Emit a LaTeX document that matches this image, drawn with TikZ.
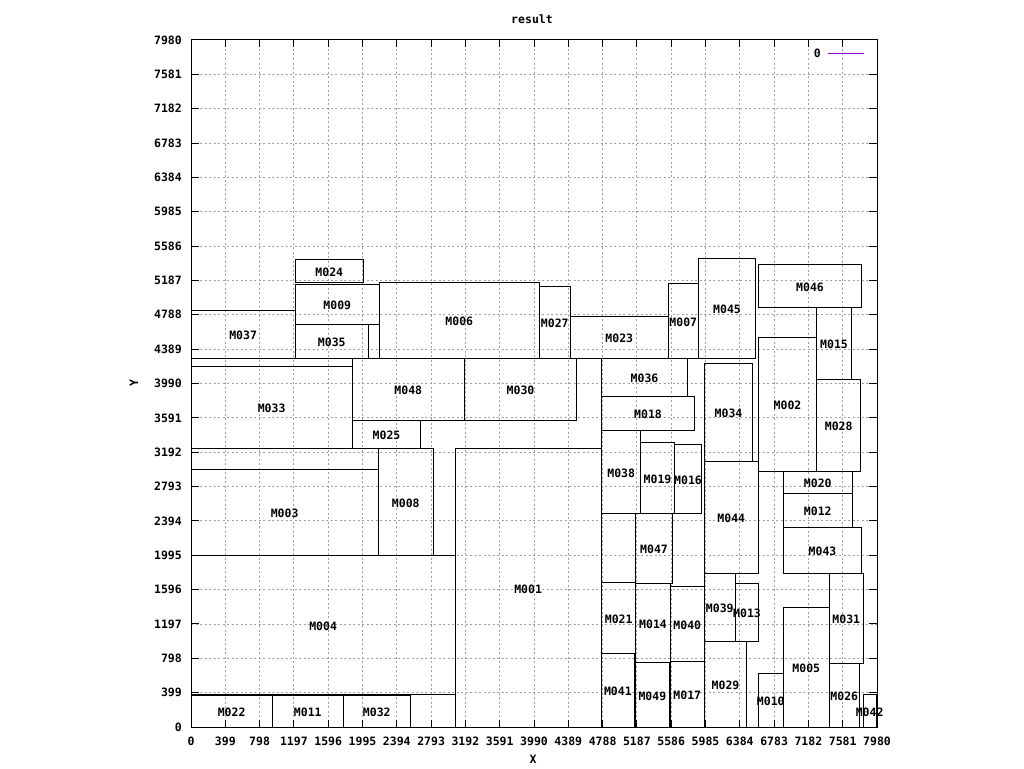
\documentclass[tikz,border=0pt]{standalone}
\usepackage{fontspec}
\setmonofont{DejaVu Sans Mono}
\definecolor{gridgray}{RGB}{160,160,160}
\definecolor{keyviolet}{RGB}{148,0,211}
\newcommand\mblock[5]{%
  \draw[blk] (#2,#3) rectangle (#4,#5);
  \node[lbl] (#1) at ({(#2+#4)/2},{(#3+#5)/2}) {#1};}
\begin{document}
\begin{tikzpicture}[x=1pt,y=-1pt,
  font=\ttfamily\bfseries\fontsize{11.5}{12}\selectfont,
  blk/.style={draw=black,line width=1pt},
  lbl/.style={inner sep=0pt,yshift=-1.2pt},
  gridline/.style={draw=gridgray,line width=0.9pt,dash pattern=on 2pt off 2.5pt},
  axisline/.style={draw=black,line width=1pt},
  keyline/.style={draw=keyviolet,line width=1pt}]
\useasboundingbox (0,0) rectangle (1024,768);
\fill[white] (0,0) rectangle (1024,768);
% grid
\foreach \i in {1,...,19}{
  \pgfmathsetmacro\xx{191+\i*34.3}
  \pgfmathsetmacro\yy{727-\i*34.35}
  \draw[gridline] (\xx,40) -- (\xx,727);
  \draw[gridline] (191,\yy) -- (877,\yy);
}
% frame
\coordinate (ll) at (191,727);
\coordinate (ur) at (877,40);
\draw[axisline] (ll) rectangle (ur);
% ticks and tick labels
\foreach \i in {0,...,20}{
  \pgfmathsetmacro\xx{191+\i*34.3}
  \pgfmathsetmacro\yy{727-\i*34.35}
  \pgfmathtruncatemacro\v{\i*399}
  \draw[axisline] (\xx,727) -- (\xx,720);
  \draw[axisline] (\xx,40) -- (\xx,47);
  \draw[axisline] (191,\yy) -- (199,\yy);
  \draw[axisline] (877,\yy) -- (869,\yy);
  \node[inner sep=0pt] (xt\i) at (\xx,741) {\v};
  \node[inner sep=0pt,anchor=east] (yt\i) at (182,\yy) {\v};
}
% titles
\node[inner sep=0pt] (title) at (532,19) {result};
\node[inner sep=0pt] (xlab) at (533,759) {X};
\node[inner sep=0pt,rotate=90] (ylab) at (134,383) {Y};
% key
\node[inner sep=0pt,anchor=east] (key) at (821,53.5) {0};
\coordinate (ks) at (828,53.5);
\coordinate (ke) at (864,53.5);
\draw[keyline] (ks) -- (ke);
% blocks
\mblock{M001}{455.3}{448.3}{601}{727}
\mblock{M002}{758.3}{337.3}{816.7}{471.3}
\mblock{M003}{191}{469.3}{378.3}{555.3}
\mblock{M004}{191}{555.3}{455.3}{694}
\mblock{M005}{783.3}{607.3}{829.3}{727}
\mblock{M006}{379.3}{282.3}{539.3}{358.3}
\mblock{M007}{668.3}{283.3}{698.3}{358.3}
\mblock{M008}{378.3}{448.3}{433.3}{555.3}
\mblock{M009}{295.3}{284.3}{379.3}{324.3}
\mblock{M010}{758.3}{673.3}{783.3}{727}
\mblock{M011}{272.3}{695}{343.3}{727}
\mblock{M012}{783.3}{493.3}{852.3}{527.3}
\mblock{M013}{735.3}{583.3}{758.7}{641.3}
\mblock{M014}{635.7}{583.3}{670.3}{662.3}
\mblock{M015}{816.7}{307.3}{851.3}{379.3}
\mblock{M016}{674.3}{444.3}{701.7}{513.3}
\mblock{M017}{670.3}{661.3}{704.3}{727}
\mblock{M018}{601.7}{396}{694.3}{430.3}
\mblock{M019}{640.7}{442.5}{674.3}{513.3}
\mblock{M020}{783.3}{471.3}{852.3}{493.3}
\mblock{M021}{601.7}{582.3}{635.7}{653.3}
\mblock{M022}{191}{695}{272.3}{727}
\mblock{M023}{570.3}{316.3}{668.3}{358.3}
\mblock{M024}{295.3}{259.3}{363.3}{282.3}
\mblock{M025}{352.3}{420}{420.7}{448.3}
\mblock{M026}{829.3}{663.3}{859.3}{727}
\mblock{M027}{539.3}{286.3}{570.3}{358.3}
\mblock{M028}{816.7}{379.3}{860.7}{471.3}
\mblock{M029}{704.3}{641.3}{746.7}{727}
\mblock{M030}{464.3}{358.3}{576.7}{420.3}
\mblock{M031}{829.3}{573.3}{863.3}{663.3}
\mblock{M032}{343.3}{695}{410.3}{727}
\mblock{M033}{191}{366.3}{352.3}{448.3}
\mblock{M034}{704.3}{363.3}{752.7}{461.3}
\mblock{M035}{295.3}{324.3}{368.3}{358.3}
\mblock{M036}{601.7}{358.3}{687.3}{396}
\mblock{M037}{191}{310.3}{295.3}{358.3}
\mblock{M038}{601.7}{430.3}{640.7}{513.3}
\mblock{M039}{704.3}{573.3}{735.3}{641.3}
\mblock{M040}{670.3}{586}{704.3}{661.3}
\mblock{M041}{601.7}{653.3}{634}{727}
\mblock{M042}{863.3}{694.3}{876}{727}
\mblock{M043}{783.3}{527.3}{861.7}{573.3}
\mblock{M044}{704.3}{461.3}{758.3}{573.3}
\mblock{M045}{698.3}{258.3}{755.7}{358.3}
\mblock{M046}{758.3}{264.3}{861.7}{307.3}
\mblock{M047}{635.7}{513.3}{672.3}{583.3}
\mblock{M048}{352.3}{358.3}{464.3}{420}
\mblock{M049}{635.7}{662.3}{669}{727}
\end{tikzpicture}
\end{document}
